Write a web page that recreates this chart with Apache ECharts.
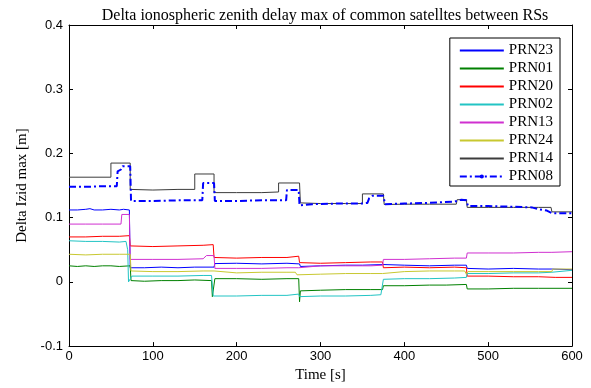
<!DOCTYPE html>
<html>
<head>
<meta charset="utf-8">
<script src="https://cdn.jsdelivr.net/npm/echarts@6/dist/echarts.min.js"></script>
<style>html,body{margin:0;padding:0;background:#fff;}#c{width:591px;height:388px;}</style>
</head>
<body>
<div id="c"></div>
<script>
const seriesNames = ['PRN23','PRN01','PRN20','PRN02','PRN13','PRN24','PRN14','PRN08'];
const xTicks = [0,100,200,300,400,500,600];
const yTicks = [-0.1,0,0.1,0.2,0.3,0.4];

const prn23 = [[0,0.112],[10,0.112],[20,0.113],[25,0.114],[30,0.112],[40,0.112],[50,0.113],[60,0.112],[65,0.113],[72,0.112],[73,0.022],[90,0.022],[110,0.023],[130,0.022],[150,0.023],[173,0.023],[174,0.0285],[200,0.029],[230,0.028],[260,0.029],[275,0.028],[276,0.024],[300,0.025],[330,0.026],[350,0.026],[375,0.027],[376,0.025],[400,0.026],[430,0.025],[460,0.026],[474,0.026],[475,0.021],[500,0.020],[530,0.021],[560,0.020],[576,0.020],[577,0.019],[600,0.019]];
const prn01 = [[0,0.025],[10,0.024],[20,0.025],[30,0.024],[40,0.025],[50,0.025],[60,0.024],[73,0.025],[74,0.002],[90,0.001],[110,0.002],[130,0.002],[150,0.003],[170,0.002],[171,-0.023],[173,-0.023],[174,0.005],[200,0.005],[230,0.004],[260,0.005],[274,0.005],[275,-0.031],[276,-0.014],[300,-0.013],[330,-0.012],[360,-0.012],[374,-0.012],[375,-0.006],[400,-0.006],[430,-0.005],[450,-0.005],[474,-0.004],[475,-0.011],[500,-0.011],[530,-0.010],[560,-0.010],[600,-0.010]];
const prn20 = [[0,0.070],[20,0.070],[40,0.071],[60,0.071],[72,0.072],[73,0.056],[100,0.055],[130,0.056],[160,0.057],[172,0.058],[173,0.038],[200,0.037],[230,0.038],[260,0.038],[274,0.040],[275,0.030],[300,0.029],[330,0.030],[360,0.031],[374,0.031],[375,0.022],[400,0.023],[430,0.022],[460,0.023],[474,0.022],[475,0.009],[500,0.009],[530,0.008],[560,0.008],[580,0.007],[600,0.007]];
const prn02 = [[0,0.064],[20,0.063],[40,0.063],[60,0.062],[68,0.063],[70,0.050],[71,0.000],[73,0.001],[75,0.009],[100,0.009],[130,0.009],[160,0.010],[170,0.010],[172,-0.022],[200,-0.022],[230,-0.021],[260,-0.021],[274,-0.019],[275,-0.023],[300,-0.022],[330,-0.022],[360,-0.021],[372,-0.020],[375,0.004],[400,0.005],[430,0.005],[460,0.006],[474,0.007],[475,0.013],[500,0.013],[530,0.014],[560,0.014],[576,0.015],[577,0.018],[600,0.018]];
const prn13 = [[0,0.090],[20,0.090],[40,0.090],[62,0.090],[63,0.105],[72,0.105],[73,0.035],[100,0.035],[130,0.035],[160,0.036],[164,0.041],[173,0.041],[174,0.021],[200,0.021],[230,0.021],[260,0.022],[274,0.022],[275,0.024],[300,0.025],[330,0.025],[360,0.025],[374,0.026],[375,0.035],[400,0.035],[430,0.036],[460,0.037],[474,0.037],[475,0.045],[500,0.045],[530,0.045],[560,0.046],[576,0.046],[577,0.049],[578,0.047],[600,0.047]];
const prn24 = [[0,0.043],[20,0.042],[40,0.043],[60,0.043],[73,0.043],[74,0.017],[100,0.016],[130,0.016],[160,0.017],[173,0.017],[174,0.015],[200,0.014],[230,0.015],[260,0.015],[270,0.015],[272,0.011],[300,0.012],[330,0.013],[360,0.013],[374,0.013],[375,0.016],[400,0.016],[430,0.017],[460,0.017],[472,0.017],[474,0.012],[476,0.016],[500,0.016],[530,0.016],[560,0.016],[576,0.016],[577,0.020],[600,0.020]];
const prn14 = [[0,0.163],[50,0.163],[50,0.185],[73,0.185],[73,0.144],[100,0.143],[130,0.144],[150,0.144],[150,0.168],[173,0.168],[173,0.139],[200,0.139],[230,0.139],[250,0.140],[250,0.154],[275,0.154],[276,0.123],[300,0.122],[330,0.122],[350,0.122],[350,0.137],[375,0.137],[376,0.1205],[400,0.121],[430,0.121],[462,0.121],[463,0.128],[474,0.128],[475,0.116],[500,0.116],[530,0.116],[560,0.116],[575,0.116],[576,0.109],[600,0.109]];
const prn08 = [[0,0.148],[20,0.148],[40,0.149],[57,0.149],[58,0.172],[62,0.175],[64,0.180],[73,0.180],[74,0.126],[100,0.126],[130,0.127],[159,0.127],[160,0.154],[173,0.154],[174,0.126],[200,0.126],[230,0.127],[259,0.127],[260,0.143],[274,0.143],[275,0.119],[290,0.121],[320,0.122],[350,0.122],[356,0.123],[358,0.130],[362,0.134],[375,0.134],[377,0.121],[400,0.122],[430,0.123],[460,0.125],[468,0.128],[474,0.127],[476,0.118],[500,0.118],[530,0.117],[552,0.116],[560,0.113],[570,0.111],[576,0.107],[600,0.107]];

const allData = [prn23, prn01, prn20, prn02, prn13, prn24, prn14, prn08];
const colors = ['#0000ff','#008000','#ff0000','#22c4c4','#d030d0','#c8c830','#3c3c3c','#0000ff'];

const serif = '"Liberation Serif","Times New Roman",serif';
const sans = '"Liberation Sans",Arial,sans-serif';

// symbol glyphs used only by the legend (lines hide their symbols)
const anchors = 'M0,0 L0.01,0 L0.01,0.01 Z M9.99,9.99 L10,9.99 L10,10 Z ';
const barSymbol = 'path://' + anchors + 'M0,4.6 L10,4.6 L10,5.4 L0,5.4 Z';
const dotSymbol = 'path://' + anchors + 'M3,5 A2,2 0 1,0 7,5 A2,2 0 1,0 3,5 Z';

const series = seriesNames.map((n, i) => {
  const isDash = n === 'PRN08';
  return {
    name: n,
    type: 'line',
    data: allData[i],
    symbol: isDash ? dotSymbol : barSymbol,
    showSymbol: false,
    animation: false,
    color: colors[i],
    itemStyle: { color: colors[i], borderWidth: 0 },
    lineStyle: isDash ? { width: 2, type: [7, 3, 2, 3], color: colors[i] } : { width: 1, color: colors[i] },
    emphasis: { disabled: true },
    z: 2 + i
  };
});

const chart = echarts.init(document.getElementById('c'), null, { renderer: 'canvas' });
chart.setOption({
  animation: false,
  backgroundColor: '#ffffff',
  title: {
    text: 'Delta ionospheric zenith delay max of common satelltes between RSs',
    left: 320, top: 3, textAlign: 'center',
    textStyle: { fontFamily: serif, fontSize: 16, fontWeight: 'normal', color: '#000' }
  },
  legend: {
    data: seriesNames,
    orient: 'vertical',
    right: 31, top: 38,
    itemWidth: 44, itemHeight: 13, itemGap: 3,
    padding: [5, 7, 2, 9],
    borderColor: '#000', borderWidth: 1,
    backgroundColor: '#fff',
    itemStyle: { borderWidth: 0 },
    textStyle: { fontFamily: serif, fontSize: 15, color: '#000' },
    z: 20
  },
  grid: { left: 69, right: 19, top: 25, bottom: 41, containLabel: false },
  xAxis: [{
    type: 'value', min: 0, max: 600, interval: 100,
    name: 'Time [s]', nameLocation: 'middle', nameGap: 20,
    nameTextStyle: { fontFamily: serif, fontSize: 15, color: '#000' },
    axisLine: { show: true, onZero: false, lineStyle: { color: '#000', width: 1 } },
    axisTick: { show: true, inside: true, length: 4, lineStyle: { color: '#000' } },
    axisLabel: { margin: 4, fontFamily: sans, fontSize: 13, color: '#000',
      formatter: v => xTicks.includes(v) ? String(v) : '' },
    splitLine: { show: false }
  }, {
    type: 'value', min: 0, max: 600, interval: 100, position: 'top',
    axisLine: { show: true, onZero: false, lineStyle: { color: '#000', width: 1 } },
    axisTick: { show: true, inside: true, length: 4, lineStyle: { color: '#000' } },
    axisLabel: { show: false }, splitLine: { show: false }
  }],
  yAxis: [{
    type: 'value', min: -0.1, max: 0.4, interval: 0.1,
    name: 'Delta Izid max [m]', nameLocation: 'middle', nameGap: 37,
    nameTextStyle: { fontFamily: serif, fontSize: 15, color: '#000' },
    axisLine: { show: true, onZero: false, lineStyle: { color: '#000', width: 1 } },
    axisTick: { show: true, inside: true, length: 4, lineStyle: { color: '#000' } },
    axisLabel: { margin: 6, fontFamily: sans, fontSize: 13, color: '#000',
      formatter: v => { const r = Math.round(v * 10) / 10; return yTicks.includes(r) ? (r === 0 ? '0' : String(r)) : ''; } },
    splitLine: { show: false }
  }, {
    type: 'value', min: -0.1, max: 0.4, interval: 0.1, position: 'right',
    axisLine: { show: true, onZero: false, lineStyle: { color: '#000', width: 1 } },
    axisTick: { show: true, inside: true, length: 4, lineStyle: { color: '#000' } },
    axisLabel: { show: false }, splitLine: { show: false }
  }],
  series: series
});
</script>
</body>
</html>
